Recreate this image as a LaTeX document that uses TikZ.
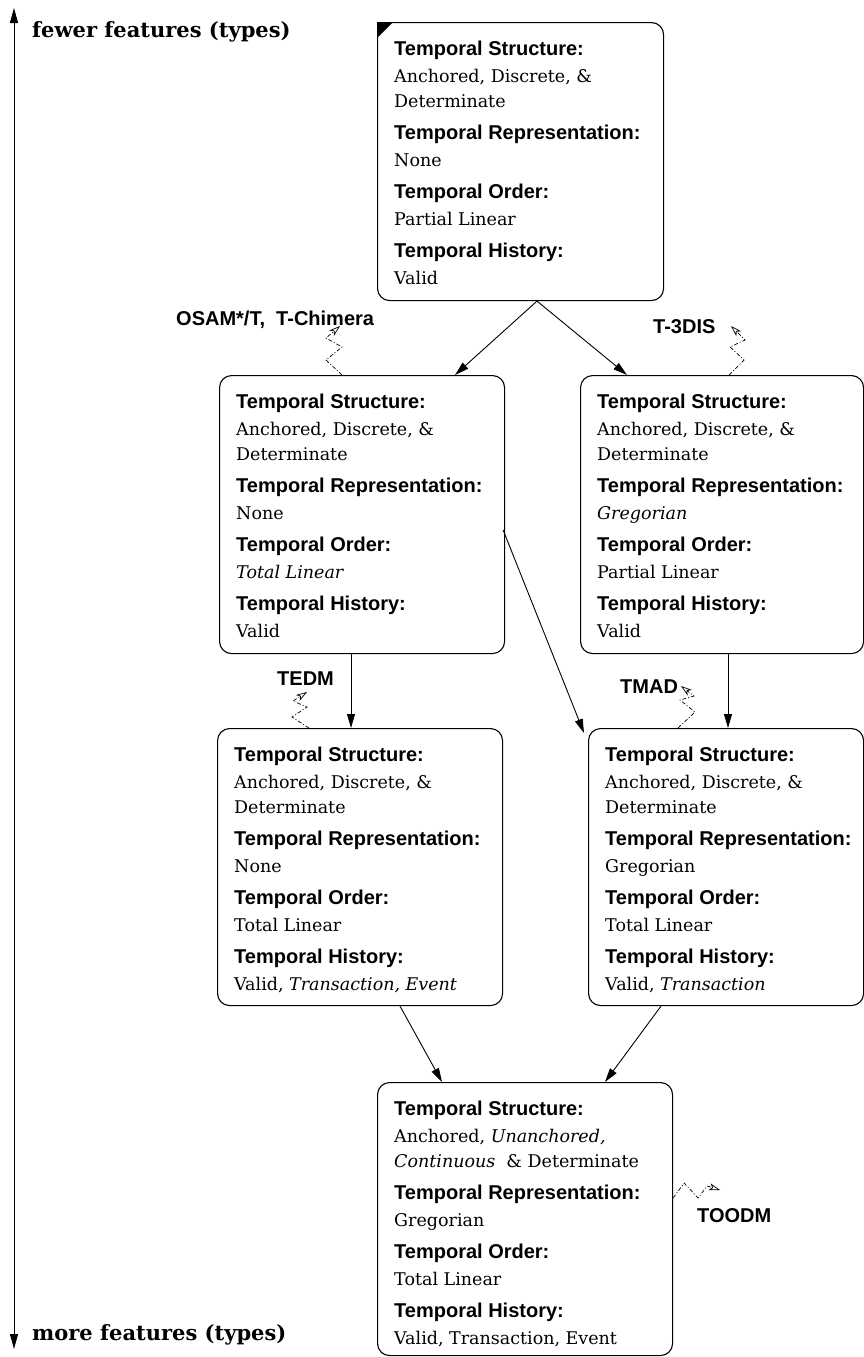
\documentclass[tikz,border=0pt]{standalone}
\usepackage{fontspec}
\setmainfont{DejaVu Serif}
\setsansfont{Liberation Sans}
\usetikzlibrary{arrows.meta,calc}

% bold sans heading inside a box
\newcommand\hd[1]{{\sffamily\bfseries\fontsize{20}{25}\selectfont #1}}
% the four entries of a feature box
\newcommand\entries[4]{%
  \hd{Temporal Structure:}\\[2pt]
  #1\\[7pt]
  \hd{Temporal Representation:}\\[2pt]
  #2\\[7pt]
  \hd{Temporal Order:}\\[2pt]
  #3\\[7pt]
  \hd{Temporal History:}\\[2pt]
  #4}

\tikzset{
  frame/.style={draw, line width=1.1pt, rounded corners=12pt, anchor=north west,
                inner sep=0pt, minimum width=#1},
  body/.style={anchor=north west, align=left, inner sep=0pt,
               font=\fontsize{17.5}{25}\selectfont},
  link/.style={line width=0.9pt, -{Triangle[length=14pt,width=8pt]}},
  trace/.style={line width=0.7pt, dash pattern=on 4pt off 2pt on 1pt off 2pt,
                -{Stealth[open,length=11pt,width=7pt,inset=3pt]}},
  tag/.style={font=\sffamily\bfseries\fontsize{20}{24}\selectfont,
              anchor=base west, inner sep=0pt},
  axislabel/.style={font=\bfseries\fontsize{21}{25}\selectfont,
                    anchor=base west, inner sep=0pt},
}

\begin{document}
\begin{tikzpicture}[x=1pt, y=-1pt]
\useasboundingbox (0,0) rectangle (864,1357);

% ---- axis on the left
\coordinate (axtop) at (14,8);
\coordinate (axbot) at (14,1349);
\draw[line width=1pt, {Triangle[length=15pt,width=8pt]}-{Triangle[length=15pt,width=8pt]}] (axtop) -- (axbot);
\node[axislabel] (fewer) at (32,37) {fewer features (types)};
\node[axislabel] (more) at (32,1340) {more features (types)};

% ---- feature boxes
\node[frame=286pt, minimum height=278pt] (top) at (377,22) {};
\node[frame=285pt, minimum height=278pt] (l1) at (219,375) {};
\node[frame=283pt, minimum height=278pt] (r1) at (580,375) {};
\node[frame=285pt, minimum height=277pt] (l2) at (217,728) {};
\node[frame=275pt, minimum height=277pt] (r2) at (588,728) {};
\node[frame=295pt, minimum height=273pt] (bot) at (377,1082) {};

% marked corner of the root box
\fill (top.north west) -- ++(16,0) -- ++(-16,16) -- cycle;

\node[body] (toptext) at ($(top.north west)+(17,18.7)$)
  {\entries{Anchored, Discrete, \&\\Determinate}{None}{Partial Linear}{Valid}};
\node[body] (l1text) at ($(l1.north west)+(17,18.7)$)
  {\entries{Anchored, Discrete, \&\\Determinate}{None}{\textit{Total Linear}}{Valid}};
\node[body] (r1text) at ($(r1.north west)+(17,18.7)$)
  {\entries{Anchored, Discrete, \&\\Determinate}{\textit{Gregorian}}{Partial Linear}{Valid}};
\node[body] (l2text) at ($(l2.north west)+(17,18.7)$)
  {\entries{Anchored, Discrete, \&\\Determinate}{None}{Total Linear}{Valid, \textit{Transaction, Event}}};
\node[body] (r2text) at ($(r2.north west)+(17,18.7)$)
  {\entries{Anchored, Discrete, \&\\Determinate}{Gregorian}{Total Linear}{Valid, \textit{Transaction}}};
\node[body] (bottext) at ($(bot.north west)+(17,18.7)$)
  {\entries{Anchored, \textit{Unanchored,}\\\textit{Continuous}~~\&~Determinate}{Gregorian}{Total Linear}{Valid, Transaction, Event}};

% ---- refinement arrows
\coordinate (split) at ($(top.south west)+(160,0)$);
\draw[link] (split) -- ($(l1.north west)+(236,0)$);
\draw[link] (split) -- ($(r1.north west)+(47,0)$);
\draw[link] ($(l1.south west)+(132,0)$) -- ($(l2.north west)+(134,0)$);
\draw[link] ($(r1.south west)+(148,0)$) -- ($(r2.north west)+(140,0)$);
\draw[link] ($(l1.north east)+(-2,155)$) -- ($(r2.north west)+(-4,5)$);
\draw[link] ($(l2.south west)+(183,0)$) -- ($(bot.north west)+(65,0)$);
\draw[link] ($(r2.south west)+(73,0)$) -- ($(bot.north west)+(228,0)$);

% ---- model labels and their traces
\node[tag] (osam) at (176,325) {OSAM*/T,\ \ T-Chimera};
\coordinate (osamtip) at (340,326);
\draw[trace] ($(l1.north west)+(123,0)$) -- ++(-16,-15) -- ++(16,-13) -- ++(-16,-9) -- (osamtip);

\node[tag] (tdis) at (653,333) {T-3DIS};
\coordinate (tdistip) at (731,326);
\draw[trace] ($(r1.north west)+(149,0)$) -- ++(15,-15) -- ++(-14,-13) -- ++(15,-7) -- (tdistip);

\node[tag] (tedm) at (277,685) {TEDM};
\coordinate (tedmtip) at (307,692);
\draw[trace] ($(l2.north west)+(92,0)$) -- ++(-17,-11) -- ++(15,-10) -- ++(-14,-6) -- (tedmtip);

\node[tag] (tmad) at (620,693) {TMAD};
\coordinate (tmadtip) at (681,686);
\draw[trace] ($(r2.north west)+(90,0)$) -- ++(17,-16) -- ++(-15,-12) -- ++(14,-4) -- (tmadtip);

\node[tag] (toodm) at (697,1222) {TOODM};
\coordinate (toodmtip) at (720,1190);
\draw[trace] ($(bot.north east)+(0,116)$) -- ++(11,-15) -- ++(14,15) -- ++(9,-12) -- (toodmtip);
\end{tikzpicture}
\end{document}
